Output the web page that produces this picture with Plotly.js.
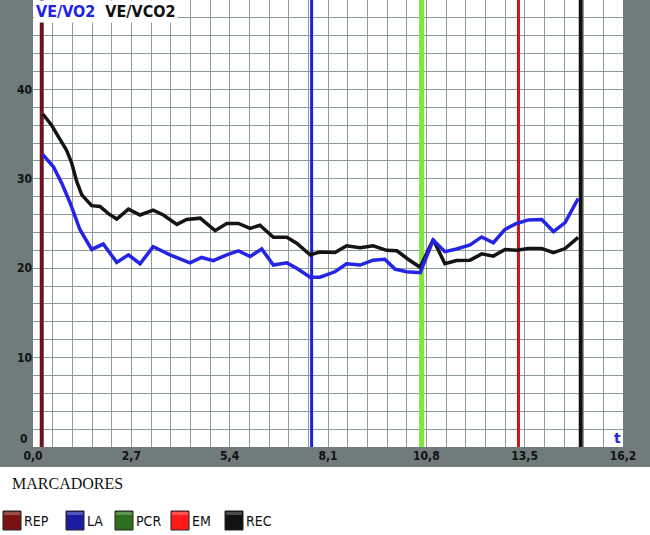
<!DOCTYPE html>
<html>
<head>
<meta charset="utf-8">
<script src="https://cdn.plot.ly/plotly-3.0.1.min.js"></script>
<style>
  html, body { margin: 0; padding: 0; background: #ffffff; }
  #chart { width: 650px; height: 535px; }
</style>
</head>
<body>
<div id="chart"></div>
<script>
// ---- Data ----
const seriesNames = ['VE/VO2', 'VE/VCO2'];

const timeVO2 = [0.27, 0.56, 0.79, 1.02, 1.29, 1.61, 1.93, 2.30, 2.62, 2.94, 3.30, 3.58, 3.76, 4.31, 4.63, 4.95,
  5.32, 5.64, 5.96, 6.28, 6.60, 6.97, 7.24, 7.61, 7.88, 8.29, 8.61, 8.98, 9.34, 9.66, 9.94, 10.26, 10.63,
  10.99, 11.31, 11.63, 12.00, 12.32, 12.64, 12.96, 13.28, 13.60, 13.97, 14.29, 14.61, 14.97];
const veVO2 = [32.7, 31.35, 29.5, 27.3, 24.3, 22.1, 22.7, 20.65, 21.5, 20.5, 22.4, 21.85, 21.5, 20.6, 21.2, 20.85,
  21.5, 21.95, 21.3, 22.15, 20.35, 20.6, 20.0, 19.0, 19.0, 19.6, 20.5, 20.35, 20.9, 21.0, 19.9, 19.6, 19.5,
  23.15, 21.85, 22.15, 22.6, 23.5, 22.85, 24.35, 25.0, 25.4, 25.45, 24.1, 25.1, 27.8];

const timeVCO2 = [0.27, 0.51, 0.70, 0.92, 1.06, 1.20, 1.34, 1.61, 1.84, 2.07, 2.30, 2.62, 2.94, 3.30, 3.58, 3.95,
  4.22, 4.59, 5.00, 5.32, 5.64, 5.96, 6.23, 6.60, 6.97, 7.24, 7.61, 7.88, 8.29, 8.61, 8.98, 9.34, 9.71, 9.99,
  10.30, 10.63, 10.99, 11.31, 11.63, 12.00, 12.32, 12.64, 12.96, 13.28, 13.60, 13.97, 14.29, 14.61, 14.97];
const veVCO2 = [37.25, 36.0, 34.7, 33.2, 31.8, 29.7, 28.2, 27.0, 26.9, 26.1, 25.5, 26.6, 25.95, 26.5, 25.95, 24.9,
  25.45, 25.6, 24.2, 25.0, 25.0, 24.45, 24.8, 23.45, 23.45, 22.8, 21.5, 21.8, 21.75, 22.5, 22.3, 22.5, 22.0, 21.95,
  21.0, 20.1, 23.2, 20.5, 20.85, 20.9, 21.6, 21.35, 22.1, 22.0, 22.2, 22.2, 21.75, 22.2, 23.45];

const markerNames = ['REP', 'LA', 'PCR', 'EM', 'REC'];
const markerTimes = [0.24, 7.65, 10.67, 13.33, 15.04];

const xTickVals = [0, 2.7, 5.4, 8.1, 10.8, 13.5, 16.2];
const xTickText = ['0,0', '2,7', '5,4', '8,1', '10,8', '13,5', '16,2'];
const yTickVals = [0, 10, 20, 30, 40, 50];
const yTickText = ['0', '10', '20', '30', '40', '50'];
const legendTitle = 'MARCADORES';
const axisUnit = 't';

// ---- Styles ----
const markerColors = ['#6a1520', '#2020d8', '#7ee83a', '#c8161c', '#111111'];
const markerWidths = [4, 3, 5, 3, 4];
const legendColors = ['#7a1212', '#1c1ca0', '#2f6e1c', '#ff1a1a', '#111111'];
const legendX = [3, 66, 115, 171, 225];   // px of the cube icons
const seriesColors = ['#2424e6', '#141414'];
const gridColor = '#8d9b9b';
const grayBg = '#707c7c';
const tickFamily = 'Liberation Sans Narrow, Arial Narrow, DejaVu Sans Condensed, sans-serif';
const tickFont = { family: tickFamily, size: 12, color: '#111', weight: 700 };
const bold = s => '<b>' + s + '</b>';

// plot geometry in px
const L = 33, R = 27, T = 0, B = 88, W = 650, H = 535;
const PW = W - L - R, PH = H - T - B;
const px2x = p => (p - L) / PW;
const py2y = p => (T + PH - p) / PH;

const traces = [];
markerNames.forEach((n, i) => {
  traces.push({
    x: [markerTimes[i], markerTimes[i]], y: [yTickVals[0], yTickVals[yTickVals.length - 1]],
    mode: 'lines', name: n, line: { color: markerColors[i], width: markerWidths[i] },
    hoverinfo: 'skip', showlegend: false
  });
});
traces.push({ x: timeVCO2, y: veVCO2, mode: 'lines', name: seriesNames[1],
  line: { color: seriesColors[1], width: 3.5 }, showlegend: false });
traces.push({ x: timeVO2, y: veVO2, mode: 'lines', name: seriesNames[0],
  line: { color: seriesColors[0], width: 3.5 }, showlegend: false });

const shapes = [
  { type: 'rect', xref: 'paper', yref: 'paper', x0: -0.2, x1: 1.2, y0: py2y(H + 10), y1: py2y(467),
    fillcolor: '#ffffff', line: { width: 0 }, layer: 'below' }
];
const annotations = [
  { xref: 'paper', yref: 'paper', x: px2x(34), y: py2y(11), xanchor: 'left', yanchor: 'middle',
    text: '<b><span style="color:#2222e6">' + seriesNames[0] + '</span>  ' + seriesNames[1] + '</b>',
    showarrow: false, bgcolor: '#ffffff', borderpad: 1,
    font: { family: 'DejaVu Sans Condensed, DejaVu Sans, sans-serif', size: 16, color: '#111' } },
  { xref: 'paper', yref: 'paper', x: px2x(617), y: py2y(438), xanchor: 'center', yanchor: 'middle',
    text: '<b>' + axisUnit + '</b>', showarrow: false,
    font: { family: 'DejaVu Sans, sans-serif', size: 14, color: '#2222e6' } },
  // y label for 0 sits slightly above the axis in the reference
  { xref: 'paper', yref: 'paper', x: px2x(30), y: py2y(439), xanchor: 'right', yanchor: 'middle',
    text: bold(yTickText[0]), showarrow: false, font: tickFont },
  { xref: 'paper', yref: 'paper', x: px2x(10), y: py2y(484), xanchor: 'left', yanchor: 'middle',
    text: legendTitle, showarrow: false,
    font: { family: 'Liberation Serif, Times New Roman, serif', size: 16, color: '#111' } }
];
markerNames.forEach((n, i) => {
  const x0 = legendX[i];
  shapes.push({ type: 'rect', xref: 'paper', yref: 'paper', x0: px2x(x0), x1: px2x(x0 + 18),
    y0: py2y(530), y1: py2y(511), fillcolor: legendColors[i], line: { color: '#222', width: 1 }, layer: 'above' });
  shapes.push({ type: 'rect', xref: 'paper', yref: 'paper', x0: px2x(x0 + 1), x1: px2x(x0 + 17),
    y0: py2y(515), y1: py2y(512), fillcolor: 'rgba(255,255,255,0.25)', line: { width: 0 }, layer: 'above' });
  annotations.push({ xref: 'paper', yref: 'paper', x: px2x(x0 + 19), y: py2y(521), xanchor: 'left', yanchor: 'middle',
    text: n, showarrow: false,
    font: { family: tickFamily, size: 14, color: '#111' } });
});

const layout = {
  width: W, height: H,
  margin: { l: L, r: R, t: T, b: B, pad: 0 },
  paper_bgcolor: grayBg, plot_bgcolor: '#ffffff',
  showlegend: false,
  xaxis: {
    range: [0, 16.2001], tickmode: 'array', tickvals: xTickVals, ticktext: xTickText.map(bold),
    showgrid: true, gridcolor: gridColor, gridwidth: 1, zeroline: false, showline: false, ticks: '',
    minor: { tickmode: 'linear', tick0: 0, dtick: 0.54, showgrid: true, gridcolor: gridColor, gridwidth: 1, ticks: '' },
    tickfont: tickFont, fixedrange: true
  },
  yaxis: {
    range: [0, 50], tickmode: 'array', tickvals: yTickVals.slice(1), ticktext: yTickText.slice(1).map(bold),
    showgrid: true, gridcolor: gridColor, gridwidth: 1, zeroline: false, showline: false, ticks: '',
    minor: { tickmode: 'linear', tick0: 0, dtick: 2, showgrid: true, gridcolor: gridColor, gridwidth: 1, ticks: '' },
    tickfont: tickFont, fixedrange: true
  },
  shapes: shapes,
  annotations: annotations
};

Plotly.newPlot('chart', traces, layout, { displayModeBar: false, staticPlot: true });
</script>
</body>
</html>
